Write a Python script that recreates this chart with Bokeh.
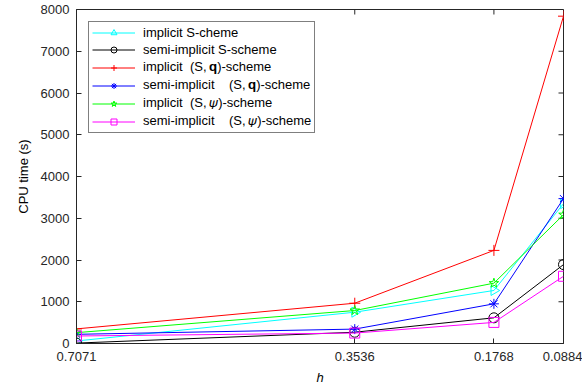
import numpy as np
from bokeh.plotting import figure
from bokeh.models import Range1d, FixedTicker, Legend
from bokeh.embed import file_html
from bokeh.resources import INLINE

h = [0.7071, 0.3536, 0.1768, 0.0884]
h_labels = ["0.7071", "0.3536", "0.1768", "0.0884"]
implicit_S = [60, 750, 1270, 3350]
semi_S = [10, 270, 615, 1890]
implicit_Sq = [350, 965, 2230, 7840]
semi_Sq = [220, 345, 950, 3470]
implicit_Spsi = [260, 790, 1445, 3085]
semi_Spsi = [180, 250, 505, 1610]
y_ticks = [0, 1000, 2000, 3000, 4000, 5000, 6000, 7000, 8000]

NB = "\u00a0"
series = [
    ("implicit S-cheme", implicit_S, "#00FFFF", "triangle", -np.pi / 2),
    ("semi-implicit S-scheme", semi_S, "#000000", "circle", 0),
    ("implicit" + NB * 2 + "(S,\u2009\U0001D42A)-scheme", implicit_Sq, "#FF0000", "cross", 0),
    ("semi-implicit" + NB * 4 + "(S,\u2009\U0001D42A)-scheme", semi_Sq, "#0000FF", "asterisk", 0),
    ("implicit" + NB * 2 + "(S,\u2009\U0001D713)-scheme", implicit_Spsi, "#00FF00", "star", 0),
    ("semi-implicit" + NB * 4 + "(S,\u2009\U0001D713)-scheme", semi_Spsi, "#FF00FF", "square", 0),
]

FONT = "Liberation Sans"
AX = "#262626"

x0, x1 = h[0], h[-1]
y0, y1 = y_ticks[0], y_ticks[-1]

p = figure(width=582, height=392, output_backend="svg", toolbar_location=None,
           x_range=Range1d(x0, x1), y_range=Range1d(y0, y1),
           min_border_left=76, min_border_right=19, min_border_top=9, min_border_bottom=49)
p.grid.visible = False
p.outline_line_color = AX
p.background_fill_color = "white"
p.border_fill_color = "white"

# box ticks on top and right edges (inward, like the left/bottom axes)
p.ray(x=h, y=[y1] * len(h), length=5, length_units="screen", angle=-np.pi / 2,
      line_color=AX, line_width=1)
p.ray(x=[x1] * len(y_ticks), y=y_ticks, length=5, length_units="screen", angle=np.pi,
      line_color=AX, line_width=1)

items = []
for label, ys, color, marker, ang in series:
    r1 = p.line(h, ys, line_color=color, line_width=1)
    r2 = p.scatter(h, ys, marker=marker, size=10 if marker != "cross" else 11,
                   line_color=color, fill_color=None, line_width=1, angle=ang)
    items.append((label, [r1, r2]))

legend = Legend(items=items, location="top_left", margin=12,
                label_text_font=FONT, label_text_font_size="13px",
                label_text_color="#000000", glyph_width=43, glyph_height=15,
                label_height=15, spacing=2, padding=3, label_standoff=8,
                border_line_color="#000000", border_line_width=1,
                background_fill_alpha=1)
p.add_layout(legend)

for ax in (p.xaxis[0], p.yaxis[0]):
    ax.major_tick_in = 5
    ax.major_tick_out = 0
    ax.minor_tick_in = 0
    ax.minor_tick_out = 0
    ax.axis_line_color = AX
    ax.major_tick_line_color = AX
    ax.major_label_text_font = FONT
    ax.major_label_text_font_size = "13px"
    ax.major_label_text_color = AX
    ax.axis_label_text_font = FONT
    ax.axis_label_text_font_size = "13px"
    ax.axis_label_text_font_style = "normal"
    ax.axis_label_text_color = "#000000"

p.xaxis[0].ticker = FixedTicker(ticks=h)
p.xaxis[0].major_label_overrides = {v: s for v, s in zip(h, h_labels)}
p.xaxis[0].axis_label = "h"
p.xaxis[0].axis_label_text_font_style = "italic"
p.xaxis[0].major_label_standoff = 8
p.xaxis[0].axis_label_standoff = 6
p.yaxis[0].ticker = FixedTicker(ticks=y_ticks)
p.yaxis[0].axis_label = "CPU time (s)"
p.yaxis[0].major_label_standoff = 7
p.yaxis[0].axis_label_standoff = 7

open("out.html", "w").write(file_html(p, INLINE))
